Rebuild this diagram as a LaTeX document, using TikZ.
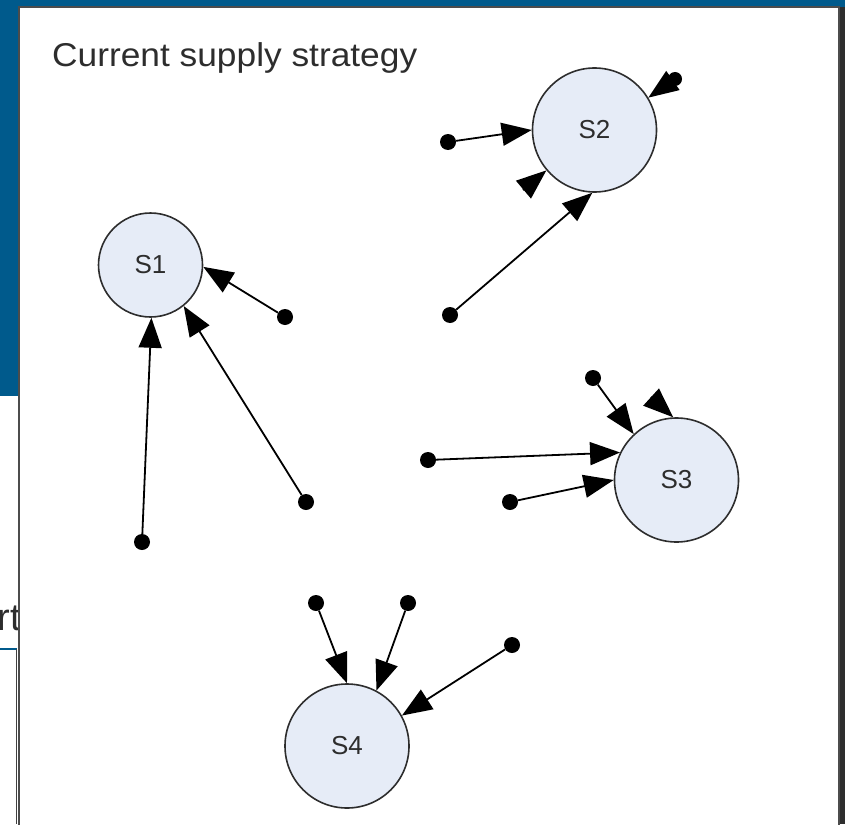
\documentclass[tikz,border=0pt]{standalone}
\usepackage{fontspec}
\setmainfont{Liberation Sans}
\usetikzlibrary{arrows.meta}
\definecolor{slideblue}{RGB}{0,90,140}
\definecolor{sitefill}{RGB}{230,236,247}
\definecolor{inkgray}{RGB}{45,45,45}

\begin{document}
\begin{tikzpicture}[x=1pt, y=-1pt,
    site/.style={circle, draw=inkgray, line width=1.6pt, fill=sitefill, minimum size=124pt,
      inner sep=0pt, text=inkgray, font=\fontsize{26}{30}\selectfont},
    src/.style={circle, fill=black, minimum size=16pt, inner sep=0pt},
    feed/.style={line width=1.8pt, draw=black, -{Triangle[length=30pt, width=23pt]}}]
  \useasboundingbox (0,0) rectangle (845,824);
  % slide behind the panel
  \fill[slideblue] (0,0) rectangle (845,396);
  \fill[black!82] (839,7) rectangle (845,824);
  \begin{scope}
    \clip (0,396) rectangle (17,648);
    \node[anchor=base east, inner sep=0pt, text=inkgray, font=\fontsize{38}{42}\selectfont] (cut) at (21,630) {rt};
  \end{scope}
  \draw[slideblue, line width=1.2pt] (0,649) -- (17,649);
  \draw[black!75, line width=1.5pt] (16.5,649) -- (16.5,824);
  % panel
  \draw[black!70, line width=2pt, fill=white] (19,7) rectangle (839,830);
  \node[anchor=base west, inner sep=0pt, text=inkgray, font=\fontsize{33}{38}\selectfont] (title) at (52,67) {\scalebox{1.07}[1]{Current supply strategy}};
  % sites
  \node[site, minimum size=104pt] (s1) at (150.5,265) {S1};
  \node[site] (s2) at (594.5,130) {S2};
  \node[site] (s3) at (676.5,480) {S3};
  \node[site] (s4) at (347,746) {S4};
  % sources
  \foreach \n/\p in {a1/{285,317}, a2/{306,502}, a3/{142,542},
      b1/{448,142}, b2/{450,315}, c1/{593,378}, c2/{428,460}, c3/{510,502},
      d1/{316,603}, d2/{408,603}, d3/{512,645}}
    \node[src] (\n) at (\p) {};
  \node[src, minimum size=14pt] (b3) at (675,79) {};
  \coordinate (b4) at (523,190);
  \coordinate (c4) at (651,397);
  % supply links
  \draw[feed] (a1) -- (s1.-2);
  \draw[feed] (a2) -- (s1.-51);
  \draw[feed] (a3) -- (s1.-89);
  \draw[feed] (b1) -- (s2.180);
  \draw[feed] (b2) -- (s2.-92);
  \draw[feed] (b3) -- (s2.31);
  \draw[feed] (b4) -- (s2.-140);
  \draw[feed] (c1) -- (s3.133);
  \draw[feed] (c4) -- (s3.93);
  \draw[feed] (c2) -- (s3.154);
  \draw[feed] (c3) -- (s3.180);
  \draw[feed] (d1) -- (s4.90);
  \draw[feed] (d2) -- (s4.62);
  \draw[feed] (d3) -- (s4.29);
\end{tikzpicture}
\end{document}
